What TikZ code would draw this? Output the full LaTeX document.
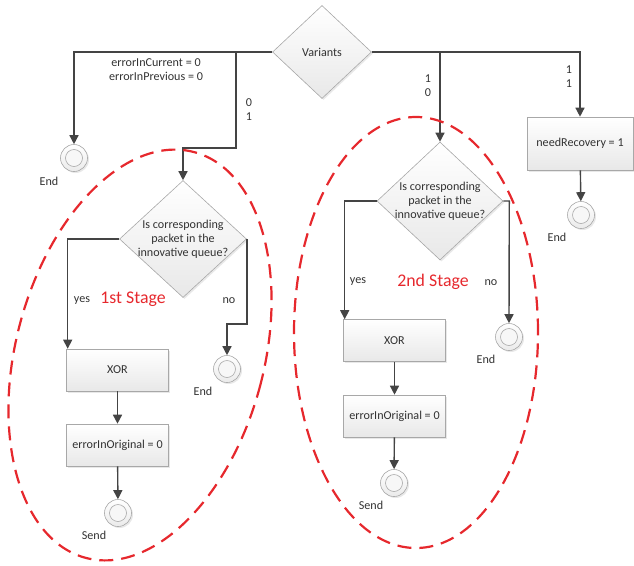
\documentclass[tikz,border=0pt]{standalone}
\usepackage{fontspec}
\setmainfont{Carlito}
\usetikzlibrary{shapes.geometric,arrows.meta,shadows}
\definecolor{stagered}{RGB}{230,40,45}
\definecolor{linegray}{RGB}{68,68,68}
\definecolor{bordergray}{RGB}{168,168,168}
\definecolor{textgray}{RGB}{50,50,50}
\begin{document}
\begin{tikzpicture}[x=1pt,y=-1pt,
  font=\fontsize{12.1}{14}\selectfont,
  txt/.style={text=textgray, inner sep=0pt, align=center},
  softshadow/.style={drop shadow={opacity=0.18, shadow xshift=1.5pt, shadow yshift=-1.5pt}},
  boxnode/.style={draw=bordergray, line width=0.6pt, top color=white, bottom color=black!9,
    minimum width=102pt, minimum height=42pt, inner sep=0pt, text=textgray, softshadow},
  decision/.style={diamond, draw=bordergray, line width=0.6pt, top color=white, bottom color=black!9,
    inner sep=0pt, text=textgray, softshadow},
  endnode/.style={circle, draw=bordergray, line width=0.6pt, minimum size=27pt, inner sep=0pt,
    top color=white, bottom color=black!8, softshadow,
    path picture={\draw[bordergray, line width=0.6pt, fill=black!3] (path picture bounding box.center) circle (8.5pt);}},
  arr/.style={draw=linegray, line width=1.4pt, -{Triangle[length=9pt,width=9pt]}},
  stageline/.style={draw=stagered, line width=2.2pt, dash pattern=on 14pt off 8pt},
  stagelbl/.style={text=stagered, font=\fontsize{17.8}{20}\selectfont, inner sep=0pt}
]
\useasboundingbox (0,0) rectangle (634,565);

% top decision
\node[decision, minimum width=99pt, minimum height=93pt] (var) at (322,52) {Variants};
\coordinate (b1) at (236,52);
\coordinate (k1) at (236,148);
\coordinate (b2) at (440,52);

% top-level end and recovery
\node[endnode] (end1) at (74,158) {};
\node[txt] (end1l) at ([shift={(-25,23)}]end1.center) {End};
\node[boxnode, minimum width=106pt, minimum height=53pt] (nr) at (580,143.5) {needRecovery = 1};
\node[endnode] (end4) at (581,215) {};
\node[txt] (end4l) at ([shift={(-24,22)}]end4.center) {End};

% labels on top branches
\node[txt] (l00) at (156,70) {errorInCurrent = 0\\errorInPrevious = 0};
\node[txt] (l01) at (249,110) {0\\1};
\node[txt] (l10) at (428,86) {1\\0};
\node[txt] (l11) at (569,76.5) {1\\1};

% stage 1
\node[decision, minimum width=127pt, minimum height=117pt,
  label={[txt]center:Is corresponding\\packet in the\\innovative queue?}] (d1) at (183,239) {};
\node[boxnode] (xor1) at (117.5,370) {XOR};
\node[boxnode] (err1) at (117.5,445) {errorInOriginal = 0};
\node[endnode] (send1) at (118,513) {};
\node[txt] (send1l) at ([shift={(-24,22)}]send1.center) {Send};
\node[endnode] (end2) at (227,369) {};
\node[txt] (end2l) at ([shift={(-24,22)}]end2.center) {End};
\node[txt] (yes1) at (82,301) {yes};
\node[txt] (no1) at (229,301) {no};
\node[stagelbl] (s1) at (133,299) {1st Stage};

% stage 2
\node[decision, minimum width=126pt, minimum height=118pt,
  label={[txt]center:Is corresponding\\packet in the\\innovative queue?}] (d2) at (440,201) {};
\node[boxnode] (xor2) at (394.5,340.5) {XOR};
\node[boxnode] (err2) at (394.5,416) {errorInOriginal = 0};
\node[endnode] (send2) at (394,483) {};
\node[txt] (send2l) at ([shift={(-23,22)}]send2.center) {Send};
\node[endnode] (end3) at (509,337) {};
\node[txt] (end3l) at ([shift={(-23,22)}]end3.center) {End};
\node[txt] (yes2) at (358,282) {yes};
\node[txt] (no2) at (491,283) {no};
\node[stagelbl] (s2) at (433,282) {2nd Stage};

% connectors
\draw[arr] (var.west) -| (end1.north);
\draw[arr] (b1) -- (k1) -| (d1.north);
\draw[arr] (var.east) -| (nr.north);
\draw[arr] (b2) -- (d2.north);
\draw[arr] (nr) -- (end4);

\draw[arr] (d1.west) -| ([xshift=1.5pt]xor1.north west);
\draw[arr] (d1.east) -- ++(0,85) -| (end2.north);
\draw[arr] (xor1) -- (err1);
\draw[arr] (err1) -- (send1);

\draw[arr] (d2.west) -| ([xshift=1.5pt]xor2.north west);
\draw[arr] (d2.east) -- ++(6,0) -- (end3.north);
\draw[arr] (xor2) -- (err2);
\draw[arr] (err2) -- (send2);

% stage ellipses
\draw[stageline, rotate around={-15:(140,355)}] (140,355) ellipse [x radius=124pt, y radius=210pt];
\draw[stageline] (416,332.5) ellipse [x radius=122pt, y radius=215.5pt];
\end{tikzpicture}
\end{document}
